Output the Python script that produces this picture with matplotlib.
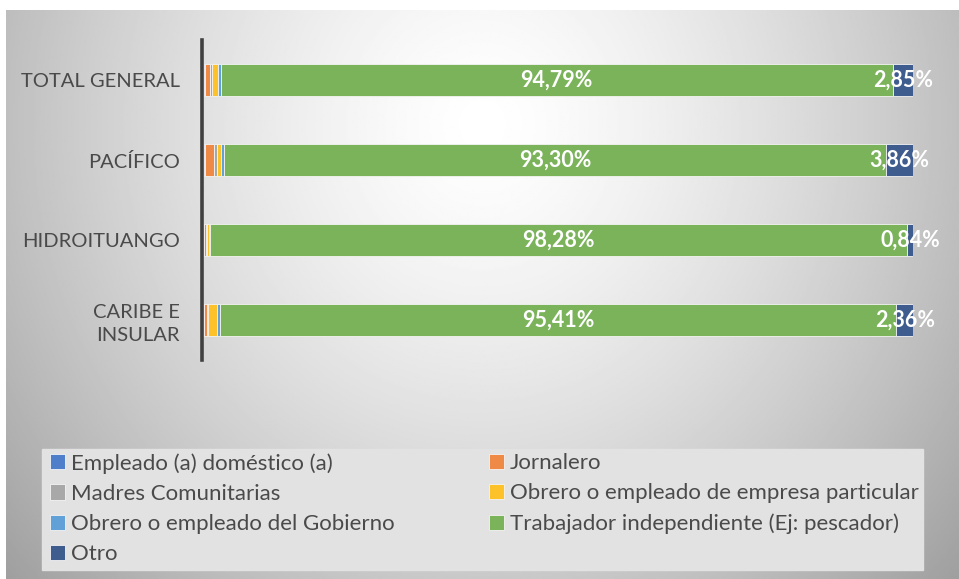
import numpy as np
import matplotlib.pyplot as plt
from matplotlib.patches import Rectangle

# data (percent) - top to bottom
regiones = ['TOTAL GENERAL', 'PACÍFICO', 'HIDROITUANGO', 'CARIBE E\nINSULAR']
series = ['Empleado (a) doméstico (a)', 'Jornalero', 'Madres Comunitarias',
          'Obrero o empleado de empresa particular', 'Obrero o empleado del Gobierno',
          'Trabajador independiente (Ej: pescador)', 'Otro']
domestico = [0.08, 0.10, 0.05, 0.05]
jornalero = [0.80, 1.30, 0.25, 0.35]
madres = [0.25, 0.40, 0.12, 0.15]
particular = [0.88, 0.55, 0.30, 1.30]
gobierno = [0.35, 0.49, 0.16, 0.38]
independiente = [94.79, 93.30, 98.28, 95.41]
otro = [2.85, 3.86, 0.84, 2.36]
colores = ['#4F7FCB', '#EE8A45', '#A8A8A8', '#FDC12A', '#62A0D8', '#7BB35A', '#3F5C8E']

plt.rcParams['font.family'] = ['Lato', 'DejaVu Sans']
gris = '#4a4a4a'

fig = plt.figure(figsize=(9.59, 5.79), dpi=100)

# gradient background (radial, light near the top centre)
bg = fig.add_axes([6/959, 0, 1 - 6/959, 569/579])
yy, xx = np.mgrid[1:0:300j, 0:1:500j]
r = np.sqrt(((xx - 0.5) / 0.5)**2 + ((yy - 0.8) / 0.9)**2)
bg.imshow(1 - 0.25 * np.clip(r, 0, 1.4)**1.4, cmap='gray', vmin=0, vmax=1,
          aspect='auto', extent=[0, 1, 0, 1])
bg.set_axis_off()

# flat legend area
fig.patches.append(Rectangle((42/959, 1 - 570/579), 881/959, 121/579,
                             transform=fig.transFigure, color='#e2e2e2', zorder=0.5))

ax = fig.add_axes([204/959, 1 - 360/579, 709/959, 320/579])
ax.patch.set_alpha(0)
for s in ['top', 'right', 'bottom']:
    ax.spines[s].set_visible(False)
ax.spines['left'].set_color('#404040')
ax.spines['left'].set_linewidth(2.6)
ax.spines['left'].set_position(('outward', 1.5))

y = np.arange(len(regiones))
datos = [domestico, jornalero, madres, particular, gobierno, independiente, otro]
left = np.zeros(len(regiones))
barras = []
for vals, nombre, c in zip(datos, series, colores):
    ax.barh(y, vals, left=left, height=0.39, color=c, edgecolor='#f4f4f4',
            linewidth=0.6, label=nombre)
    barras.append((vals, left.copy()))
    left += np.array(vals)

# data labels for "Trabajador independiente" and "Otro"
for vals, lft in barras[5:]:
    for i, v in enumerate(vals):
        ax.text(lft[i] + v / 2, y[i], f'{v:.2f}%'.replace('.', ','), ha='center', va='center',
                color='white', fontweight='bold', fontsize=15.5)

ax.set_xlim(0, 100)
ax.set_ylim(-0.5, len(regiones) - 0.5)
ax.invert_yaxis()
ax.set_xticks([])
ax.set_yticks(y)
ax.set_yticklabels(regiones, fontsize=14.5, color=gris, multialignment='right', linespacing=1.4)
ax.tick_params(axis='y', length=0, pad=16)

h, l = ax.get_legend_handles_labels()
estilo = dict(loc='upper left', frameon=False, fontsize=16, labelcolor=gris,
              handlelength=0.68, handleheight=0.68, handletextpad=0.25,
              labelspacing=0.46, borderpad=0, borderaxespad=0)
col1 = [0, 2, 4, 6]
col2 = [1, 3, 5]
fig.legend([h[i] for i in col1], [l[i] for i in col1],
           bbox_to_anchor=(50/959, 1 - 453/579), **estilo)
fig.legend([h[i] for i in col2], [l[i] for i in col2],
           bbox_to_anchor=(489/959, 1 - 453/579), **estilo)

fig.savefig('out.png', dpi=100)
